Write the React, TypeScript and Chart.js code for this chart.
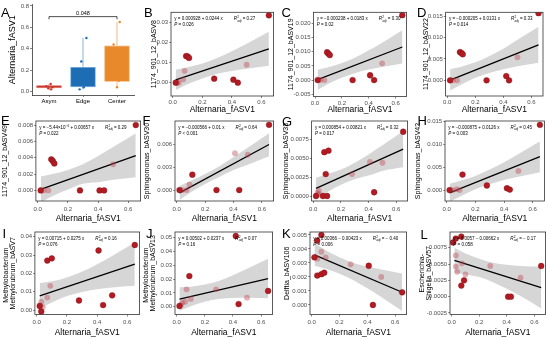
import React, { useEffect, useRef } from "react";
import { Chart, registerables } from "chart.js";
Chart.register(...registerables);

const FONT = "'Liberation Sans', Arial, Helvetica, sans-serif";
Chart.defaults.font.family = FONT;

// ---------------- Panel A data ----------------
const A_GROUPS = ["Asym", "Edge", "Center"];
const A_BOX_LOW = [0.03, 0.04, 0.09];
const A_BOX_HIGH = [0.058, 0.23, 0.43];
const A_WHISK_LOW = [0.02, 0.02, 0.04];
const A_WHISK_HIGH = [0.07, 0.5, 0.65];
const A_ASYM_VALUES = [0.07, 0.05, 0.04, 0.03, 0.02];
const A_ASYM_JITTER = [0.05, -0.08, 0.1, -0.02, 0.06];
const A_EDGE_VALUES = [0.5, 0.28, 0.04, 0.02];
const A_EDGE_JITTER = [0.1, -0.05, 0.02, -0.1];
const A_CENTER_VALUES = [0.65, 0.44, 0.1, 0.04];
const A_CENTER_JITTER = [0.08, -0.1, 0.05, 0.0];
const A_Y_TICKS = [0, 0.2, 0.4, 0.6, 0.8];
const A_P_VALUE = "0.048";
const A_BRACKET_Y = 0.7;

// ---------------- shared x ----------------
const X_TICKS = [0, 0.2, 0.4, 0.6];
const LINE_X = [0.02, 0.65];
const BAND_X = [0.02, 0.1, 0.2, 0.3, 0.4, 0.5, 0.65];

// ---------------- B ----------------
const B_DARK = [[0.02, 0], [0.09, 0.0132], [0.1, 0.013], [0.11, 0.0123], [0.28, 0.002], [0.41, 0.0015], [0.44, 0], [0.65, 0.0334]];
const B_LIGHT = [[0.03, 0], [0.04, 0], [0.07, 0.0016], [0.08, 0.0059], [0.5, 0.0089]];
const B_LINE = [0.00142, 0.01679];
const B_UPPER = [0.0064, 0.0076, 0.0095, 0.0122, 0.0156, 0.0193, 0.0252];
const B_LOWER = [-0.0036, -0.0008, 0.0021, 0.0044, 0.0058, 0.0069, 0.0084];
const B_Y_TICKS = [0, 0.01, 0.02, 0.03];

// ---------------- C ----------------
const C_DARK = [[0.02, 0], [0.09, 0.0098], [0.1, 0.0093], [0.11, 0.0088], [0.28, 0], [0.41, 0.0017], [0.44, 0], [0.65, 0.0229]];
const C_LIGHT = [[0.04, 0], [0.07, 0], [0.5, 0.0059]];
const C_LINE = [0.000128, 0.01166];
const C_UPPER = [0.0036, 0.0045, 0.006, 0.008, 0.0105, 0.0132, 0.0176];
const C_LOWER = [-0.0034, -0.0013, 0.0008, 0.0025, 0.0037, 0.0046, 0.0058];
const C_Y_TICKS = [-0.005, 0, 0.005, 0.01, 0.015, 0.02];

// ---------------- D ----------------
const D_DARK = [[0.02, 0], [0.09, 0.0066], [0.1, 0.0064], [0.11, 0.0061], [0.28, 0], [0.42, 0.001], [0.44, 0], [0.65, 0.0157]];
const D_LIGHT = [[0.04, 0], [0.07, 0], [0.5, 0.0054]];
const D_LINE = [0.000057, 0.00831];
const D_UPPER = [0.0026, 0.0032, 0.0042, 0.0057, 0.0074, 0.0095, 0.0125];
const D_LOWER = [-0.0024, -0.001, 0.0006, 0.0017, 0.0026, 0.0033, 0.0041];
const D_Y_TICKS = [0, 0.005, 0.01, 0.015];

// ---------------- E ----------------
const E_DARK = [[0.02, 0], [0.09, 0.0038], [0.1, 0.0036], [0.11, 0.0033], [0.28, 0], [0.41, 0], [0.44, 0], [0.65, 0.008]];
const E_LIGHT = [[0.04, 0], [0.07, 0], [0.5, 0.0032]];
const E_LINE = [0.000126, 0.00427];
const E_UPPER = [0.0017, 0.002, 0.0025, 0.0032, 0.0042, 0.0053, 0.007];
const E_LOWER = [-0.0015, -0.0007, 0.0001, 0.0008, 0.001, 0.0013, 0.0016];
const E_Y_TICKS = [0, 0.002, 0.004, 0.006, 0.008];

// ---------------- F ----------------
const F_DARK = [[0.02, 0], [0.11, 0.002], [0.28, 0], [0.44, 0], [0.65, 0.0085]];
const F_LIGHT = [[0.04, 0], [0.07, 0], [0.09, 0.0007], [0.41, 0.0048], [0.5, 0.0046]];
const F_LINE = [-0.000366, 0.00593];
const F_UPPER = [0.00053, 0.0012, 0.0021, 0.0031, 0.0043, 0.0055, 0.0074];
const F_LOWER = [-0.0013, -0.0003, 0.0008, 0.0017, 0.0026, 0.0033, 0.0044];
const F_Y_TICKS = [0, 0.003, 0.006];

// ---------------- G ----------------
const G_DARK = [[0.02, 0], [0.08, 0.0058], [0.11, 0.006], [0.09, 0.0029], [0.07, 0], [0.1, 0], [0.44, 0.0005], [0.65, 0.0085]];
const G_LIGHT = [[0.03, 0.0004], [0.04, 0.0007], [0.04, 0.0002], [0.28, 0.0029], [0.41, 0.0045], [0.5, 0.0044]];
const G_LINE = [0.00102, 0.00619];
const G_UPPER = [0.0024, 0.0029, 0.0035, 0.0044, 0.0055, 0.0067, 0.0086];
const G_LOWER = [-0.0004, 0.0005, 0.0015, 0.0022, 0.0027, 0.0033, 0.0038];
const G_Y_TICKS = [0, 0.0025, 0.005, 0.0075];

// ---------------- H ----------------
const H_DARK = [[0.02, 0], [0.11, 0.0034], [0.28, 0.001], [0.42, 0.0004], [0.44, 0.0001], [0.65, 0.0143]];
const H_LIGHT = [[0.04, 0], [0.07, 0.0002], [0.09, 0], [0.5, 0.0042]];
const H_LINE = [-0.000623, 0.00732];
const H_UPPER = [0.0014, 0.0021, 0.0031, 0.0045, 0.0061, 0.0079, 0.0107];
const H_LOWER = [-0.0026, -0.0013, 0.0002, 0.0013, 0.0022, 0.0029, 0.0039];
const H_Y_TICKS = [0, 0.005, 0.01, 0.015];

// ---------------- I ----------------
const I_DARK = [[0.02, 0.0022], [0.03, -0.0008], [0.07, 0.027], [0.1, 0.0282], [0.28, 0.0052], [0.41, 0.0325], [0.44, 0.0027], [0.5, 0.008], [0.65, 0.0355]];
const I_LIGHT = [[0.03, 0.0045], [0.04, 0.0015], [0.07, 0.0068], [0.09, 0.0132]];
const I_LINE = [0.0077, 0.025];
const I_UPPER = [0.0147, 0.0157, 0.0178, 0.0209, 0.025, 0.0295, 0.0368];
const I_LOWER = [0.0007, 0.0041, 0.0076, 0.0099, 0.0114, 0.0123, 0.0132];
const I_Y_TICKS = [0, 0.01, 0.02, 0.03, 0.04];

// ---------------- J ----------------
const J_DARK = [[0.02, 0.0005], [0.09, 0.0222], [0.42, 0.0512], [0.44, 0.0019], [0.65, 0.0114]];
const J_LIGHT = [[0.03, 0.0012], [0.04, 0.003], [0.06, 0.0036], [0.07, 0.0126], [0.1, 0.0056], [0.28, 0.0126], [0.5, 0.0065]];
const J_LINE = [0.0055, 0.0204];
const J_UPPER = [0.014, 0.0144, 0.016, 0.0187, 0.0227, 0.0274, 0.0347];
const J_LOWER = [-0.003, 0.0004, 0.0036, 0.0055, 0.0063, 0.0064, 0.0061];
const J_Y_TICKS = [0, 0.01, 0.02, 0.03, 0.04, 0.05];

// ---------------- K ----------------
const K_DARK = [[0.02, 0.0034], [0.04, 0.0046], [0.07, 0.005], [0.04, 0.0021], [0.07, 0.0022], [0.09, 0.0023], [0.41, 0.0028], [0.44, 0], [0.65, 0.0009]];
const K_LIGHT = [[0.04, 0.0033], [0.07, 0.0038], [0.1, 0.0034], [0.28, 0.0029], [0.5, 0.002]];
const K_LINE = [0.00358, 0.00091];
const K_UPPER = [0.0044, 0.0039, 0.0034, 0.003, 0.00275, 0.00253, 0.00225];
const K_LOWER = [0.0028, 0.00258, 0.00223, 0.00177, 0.00119, 0.00057, -0.00043];
const K_Y_TICKS = [0, 0.001, 0.002, 0.003, 0.004, 0.005];

// ---------------- L ----------------
const L_DARK = [[0.01, 0.0083], [0.03, 0.0089], [0.07, 0.0092], [0.07, 0.0017], [0.09, 0.0025], [0.41, 0], [0.43, 0], [0.65, 0.0047]];
const L_LIGHT = [[0.03, 0.0063], [0.03, 0.0046], [0.04, 0.0038], [0.075, 0.0051], [0.1, 0.0034], [0.28, 0.0047], [0.5, 0.0029]];
const L_LINE = [0.00557, 0.0014];
const L_UPPER = [0.0075, 0.0066, 0.0058, 0.0052, 0.0049, 0.0047, 0.0046];
const L_LOWER = [0.0037, 0.0034, 0.003, 0.0022, 0.0012, 0.0001, -0.0018];
const L_Y_TICKS = [-0.0025, 0, 0.0025, 0.005, 0.0075];

// ---------------- styles ----------------
const DARK = "#B31B22";
const DARK_EDGE = "#7E1015";
const LIGHT = "rgba(190, 70, 80, 0.42)";
const BAND = "rgba(153,153,153,0.4)";
const AXIS = "#333333";
const TICK_TEXT = "#4D4D4D";
const A_FILL = ["#C9392B", "#1C6DB4", "#E8892C"];
const A_EDGE = ["#D9564A", "#5CA3DC", "#F2A55C"];
const X_MIN = -0.012;
const X_MAX = 0.682;
const X_TITLE = "Alternaria_fASV1";
const POINT_R = 2.9;

type PanelCfg = {
  letter: string;
  letterPos: [number, number];
  cell: [number, number, number, number];
  frame: [number, number, number, number];
  ytx: number;
  xTitleY: number;
  xTickPad: number;
  yTitle: string | string[];
  yMin: number;
  yMax: number;
  yTicks: number[];
  yDec: number;
  dark: number[][];
  light: number[][];
  line: number[];
  upper: number[];
  lower: number[];
  eq: string;
  r2: string;
  p: string;
};

const PANELS: PanelCfg[] = [
  { letter: "B", letterPos: [144, 6.5], cell: [140, 0, 278, 116], frame: [171, 12.3, 275, 96], ytx: 153.7, xTitleY: 110, xTickPad: 1, yTitle: "1174_901_12_bASV8", yMin: -0.0066, yMax: 0.0349, yTicks: B_Y_TICKS, yDec: 2, dark: B_DARK, light: B_LIGHT, line: B_LINE, upper: B_UPPER, lower: B_LOWER, eq: "y = 0.000928 + 0.0244 x", r2: "0.27", p: "P = 0.026" },
  { letter: "C", letterPos: [281.5, 6.5], cell: [278, 0, 411, 116], frame: [313.4, 12.3, 408, 96.5], ytx: 290.7, xTitleY: 110, xTickPad: 1, yTitle: "1174_901_12_bASV19", yMin: -0.0058, yMax: 0.0239, yTicks: C_Y_TICKS, yDec: 3, dark: C_DARK, light: C_LIGHT, line: C_LINE, upper: C_UPPER, lower: C_LOWER, eq: "y = \u22120.000238 + 0.0183 x", r2: "0.30", p: "P = 0.02" },
  { letter: "D", letterPos: [417, 6.5], cell: [413, 0, 550, 116], frame: [445.6, 12.3, 543, 96], ytx: 425.7, xTitleY: 110, xTickPad: 1, yTitle: "1174_901_12_bASV22", yMin: -0.00366, yMax: 0.0159, yTicks: D_Y_TICKS, yDec: 3, dark: D_DARK, light: D_LIGHT, line: D_LINE, upper: D_UPPER, lower: D_LOWER, eq: "y = \u22120.000205 + 0.0131 x", r2: "0.33", p: "P = 0.014" },
  { letter: "E", letterPos: [1, 114], cell: [0, 110, 145, 224], frame: [35.9, 121, 141.6, 201], ytx: 5.5, xTitleY: 218.3, xTickPad: 2.5, yTitle: "1174_901_12_bASV49", yMin: -0.0013, yMax: 0.0085, yTicks: E_Y_TICKS, yDec: 3, dark: E_DARK, light: E_LIGHT, line: E_LINE, upper: E_UPPER, lower: E_LOWER, eq: "y = \u22125.44\u00d710^{\u22126} + 0.00657 x", r2: "0.29", p: "P = 0.022" },
  { letter: "F", letterPos: [142.5, 114], cell: [140, 110, 278, 224], frame: [175, 121, 275, 201], ytx: 146.7, xTitleY: 218.3, xTickPad: 2.5, yTitle: "Sphingomonas_bASV30", yMin: -0.00143, yMax: 0.009, yTicks: F_Y_TICKS, yDec: 3, dark: F_DARK, light: F_LIGHT, line: F_LINE, upper: F_UPPER, lower: F_LOWER, eq: "y = \u22120.000566 + 0.01 x", r2: "0.64", p: "P < 0.001" },
  { letter: "G", letterPos: [282, 115], cell: [278, 110, 412, 224], frame: [311.6, 121, 409.2, 201], ytx: 286, xTitleY: 218.3, xTickPad: 2.5, yTitle: "Sphingomonas_bASV33", yMin: -0.00066, yMax: 0.00992, yTicks: G_Y_TICKS, yDec: 4, dark: G_DARK, light: G_LIGHT, line: G_LINE, upper: G_UPPER, lower: G_LOWER, eq: "y = 0.000854 + 0.00821 x", r2: "0.32", p: "P = 0.017" },
  { letter: "H", letterPos: [417.5, 114], cell: [412, 110, 550, 224], frame: [445, 121, 544.5, 201], ytx: 418.3, xTitleY: 218.3, xTickPad: 2.5, yTitle: "Sphingomonas_bASV42", yMin: -0.0024, yMax: 0.01515, yTicks: H_Y_TICKS, yDec: 3, dark: H_DARK, light: H_LIGHT, line: H_LINE, upper: H_UPPER, lower: H_LOWER, eq: "y = \u22120.000875 + 0.0126 x", r2: "0.45", p: "P = 0.003" },
  { letter: "I", letterPos: [2.5, 227.5], cell: [0, 225, 144, 338], frame: [34.9, 232, 140.7, 314.5], ytx: 6, xTitleY: 332.3, xTickPad: 2.5, yTitle: ["Methylobacterium_", "Methylorubrum_bASV7"], yMin: -0.00245, yMax: 0.0426, yTicks: I_Y_TICKS, yDec: 2, dark: I_DARK, light: I_LIGHT, line: I_LINE, upper: I_UPPER, lower: I_LOWER, eq: "y = 0.00715 + 0.0275 x", r2: "0.16", p: "P = 0.076" },
  { letter: "J", letterPos: [146, 227.5], cell: [138, 225, 277, 338], frame: [175, 232, 274, 314.5], ytx: 145.7, xTitleY: 332.3, xTickPad: 2.5, yTitle: ["Methylobacterium_", "Methylorubrum_bASV13"], yMin: -0.00565, yMax: 0.0541, yTicks: J_Y_TICKS, yDec: 2, dark: J_DARK, light: J_LIGHT, line: J_LINE, upper: J_UPPER, lower: J_LOWER, eq: "y = 0.00502 + 0.0237 x", r2: "0.07", p: "P = 0.16" },
  { letter: "K", letterPos: [282, 227.5], cell: [278, 225, 411, 338], frame: [310, 232, 408, 314.5], ytx: 287.3, xTitleY: 332.3, xTickPad: 2.5, yTitle: "Delftia_bASV106", yMin: -0.00068, yMax: 0.00521, yTicks: K_Y_TICKS, yDec: 3, dark: K_DARK, light: K_LIGHT, line: K_LINE, upper: K_UPPER, lower: K_LOWER, eq: "y = 0.00366 \u2212 0.00423 x", r2: "\u2212 0.40", p: "P = 0.006" },
  { letter: "L", letterPos: [420.5, 228], cell: [412, 225, 550, 338], frame: [450, 232, 549.5, 314.5], ytx: 422.3, xTitleY: 332.3, xTickPad: 2.5, yTitle: ["Escherichia-", "Shigella_bASV57"], yMin: -0.00273, yMax: 0.0099, yTicks: L_Y_TICKS, yDec: 4, dark: L_DARK, light: L_LIGHT, line: L_LINE, upper: L_UPPER, lower: L_LOWER, eq: "y = 0.0057 \u2212 0.00662 x", r2: "\u2212 0.17", p: "P = 0.058" },
];

const Y_TITLE_SIZE = 7;
const X_TITLE_SIZE = 8.5;
const TICK_SIZE = 6;
const EQ_SIZE = 4.5;

function drawRich(ctx: CanvasRenderingContext2D, x: number, y: number, text: string, size: number) {
  const parts = text.split(/(\^\{[^}]*\})/);
  for (const part of parts) {
    if (!part) continue;
    if (part.startsWith("^{")) {
      const t = part.slice(2, -1);
      ctx.font = `${size * 0.7}px ${FONT}`;
      ctx.fillText(t, x, y - size * 0.42);
      x += ctx.measureText(t).width;
    } else {
      ctx.font = `${size}px ${FONT}`;
      ctx.fillText(part, x, y);
      x += ctx.measureText(part).width;
    }
  }
  return x;
}

const framePlugin = {
  id: "frame",
  afterDatasetsDraw(chart: any) {
    const { ctx, chartArea: ca } = chart;
    ctx.save();
    ctx.strokeStyle = AXIS;
    ctx.lineWidth = 0.8;
    ctx.strokeRect(ca.left, ca.top, ca.right - ca.left, ca.bottom - ca.top);
    ctx.restore();
  },
};

const eqPlugin = {
  id: "eq",
  afterDraw(chart: any, _args: any, opts: any) {
    const { ctx, chartArea: ca } = chart;
    const p: PanelCfg = opts.panel;
    ctx.save();
    ctx.fillStyle = "#000";
    ctx.textBaseline = "alphabetic";
    ctx.textAlign = "left";
    const x0 = ca.left + 3.3;
    const y1 = ca.top + 8;
    let x = drawRich(ctx, x0, y1, p.eq, EQ_SIZE);
    x += 11;
    ctx.font = `italic ${EQ_SIZE}px ${FONT}`;
    ctx.fillText("R", x, y1);
    x += ctx.measureText("R").width + 0.2;
    ctx.font = `${EQ_SIZE * 0.7}px ${FONT}`;
    ctx.fillText("2", x, y1 - EQ_SIZE * 0.45);
    ctx.font = `italic ${EQ_SIZE * 0.7}px ${FONT}`;
    ctx.fillText("adj", x, y1 + EQ_SIZE * 0.3);
    x += ctx.measureText("adj").width;
    ctx.font = `${EQ_SIZE}px ${FONT}`;
    ctx.fillText(" = " + p.r2, x, y1);
    const y2 = ca.top + 13.7;
    ctx.font = `italic ${EQ_SIZE}px ${FONT}`;
    ctx.fillText("P", x0, y2);
    const px = x0 + ctx.measureText("P").width;
    ctx.font = `${EQ_SIZE}px ${FONT}`;
    ctx.fillText(p.p.slice(1), px, y2);
    ctx.restore();
  },
};

function fmt(v: number, dec: number) {
  return v.toFixed(dec);
}

function scatterConfig(p: PanelCfg): any {
  const [cx0, cy0, cx1, cy1] = p.cell;
  const [l, t, r, b] = p.frame;
  const yw = l - cx0;
  const xh = cy1 - b;
  const yPadTop = p.ytx - cx0 - Y_TITLE_SIZE / 2;
  const xPadBottom = cy1 - p.xTitleY - (X_TITLE_SIZE * 1.2) / 2;
  const pts = (arr: number[][]) => arr.map((d) => ({ x: d[0], y: d[1] }));
  return {
    type: "scatter",
    data: {
      datasets: [
        {
          type: "line",
          data: BAND_X.map((x, i) => ({ x, y: p.upper[i] })),
          borderWidth: 0,
          pointRadius: 0,
          fill: "+1",
          backgroundColor: BAND,
          cubicInterpolationMode: "monotone",
          order: 5,
        },
        {
          type: "line",
          data: BAND_X.map((x, i) => ({ x, y: p.lower[i] })),
          borderWidth: 0,
          pointRadius: 0,
          fill: false,
          cubicInterpolationMode: "monotone",
          order: 5,
        },
        {
          type: "line",
          data: LINE_X.map((x, i) => ({ x, y: p.line[i] })),
          borderColor: "#000",
          borderWidth: 1.3,
          pointRadius: 0,
          fill: false,
          order: 4,
        },
        {
          type: "scatter",
          data: pts(p.light),
          backgroundColor: LIGHT,
          borderColor: "rgba(0,0,0,0)",
          borderWidth: 0,
          pointRadius: POINT_R,
          order: 2,
        },
        {
          type: "scatter",
          data: pts(p.dark),
          backgroundColor: DARK,
          borderColor: DARK_EDGE,
          borderWidth: 0.4,
          pointRadius: POINT_R,
          order: 1,
        },
      ],
    },
    options: {
      animation: false,
      responsive: false,
      events: [],
      layout: { padding: { left: 0, top: t - cy0, right: cx1 - r, bottom: 0 } },
      plugins: {
        legend: { display: false },
        tooltip: { enabled: false },
        eq: { panel: p },
      },
      scales: {
        x: {
          type: "linear",
          min: X_MIN,
          max: X_MAX,
          afterBuildTicks: (s: any) => {
            s.ticks = X_TICKS.map((v) => ({ value: v }));
          },
          afterFit: (s: any) => {
            s.height = xh;
          },
          ticks: {
            callback: (v: any) => fmt(Number(v), 1),
            font: { size: TICK_SIZE },
            color: TICK_TEXT,
            padding: p.xTickPad,
            maxRotation: 0,
            autoSkip: false,
          },
          grid: { display: true, drawOnChartArea: false, drawTicks: true, tickLength: 2, tickColor: AXIS, tickWidth: 0.6 },
          border: { display: false },
          title: {
            display: true,
            text: X_TITLE,
            color: "#000",
            font: { size: X_TITLE_SIZE },
            padding: { top: 0, bottom: xPadBottom },
          },
        },
        y: {
          type: "linear",
          min: p.yMin,
          max: p.yMax,
          afterBuildTicks: (s: any) => {
            s.ticks = p.yTicks.map((v) => ({ value: v }));
          },
          afterFit: (s: any) => {
            s.width = yw;
          },
          ticks: {
            callback: (v: any) => fmt(Number(v), p.yDec),
            font: { size: TICK_SIZE },
            color: TICK_TEXT,
            padding: 1,
            autoSkip: false,
          },
          grid: { display: true, drawOnChartArea: false, drawTicks: true, tickLength: 1.8, tickColor: AXIS, tickWidth: 0.6 },
          border: { display: false },
          title: {
            display: true,
            text: p.yTitle,
            color: "#000",
            font: { size: Y_TITLE_SIZE, lineHeight: 1 },
            padding: { top: yPadTop, bottom: 0 },
          },
        },
      },
    },
    plugins: [framePlugin, eqPlugin],
  };
}

const A_CELL: [number, number, number, number] = [0, 0, 138, 110];
const A_FRAME: [number, number, number, number] = [32, 3, 137, 95];

const boxPlugin = {
  id: "boxExtras",
  beforeDatasetsDraw(chart: any) {
    const { ctx, scales } = chart;
    const xs = scales.x;
    const ys = scales.y;
    ctx.save();
    ctx.lineWidth = 0.8;
    A_GROUPS.forEach((_, i) => {
      const x = xs.getPixelForValue(i);
      ctx.strokeStyle = A_EDGE[i];
      ctx.beginPath();
      ctx.moveTo(x, ys.getPixelForValue(A_WHISK_LOW[i]));
      ctx.lineTo(x, ys.getPixelForValue(A_BOX_LOW[i]));
      ctx.moveTo(x, ys.getPixelForValue(A_BOX_HIGH[i]));
      ctx.lineTo(x, ys.getPixelForValue(A_WHISK_HIGH[i]));
      ctx.stroke();
    });
    ctx.restore();
  },
  afterDatasetsDraw(chart: any) {
    const { ctx, scales } = chart;
    const xs = scales.x;
    const ys = scales.y;
    ctx.save();
    const x1 = xs.getPixelForValue(0);
    const x2 = xs.getPixelForValue(2);
    const yb = ys.getPixelForValue(A_BRACKET_Y);
    const yt = ys.getPixelForValue(A_BRACKET_Y - 0.025);
    ctx.strokeStyle = "#000";
    ctx.lineWidth = 0.7;
    ctx.beginPath();
    ctx.moveTo(x1, yt);
    ctx.lineTo(x1, yb);
    ctx.lineTo(x2, yb);
    ctx.lineTo(x2, yt);
    ctx.stroke();
    ctx.fillStyle = "#000";
    ctx.font = `5.5px ${FONT}`;
    ctx.textAlign = "center";
    ctx.textBaseline = "alphabetic";
    ctx.fillText(A_P_VALUE, (x1 + x2) / 2, yb - 2);
    ctx.restore();
  },
};

function boxConfig(): any {
  const [cx0, cy0, cx1, cy1] = A_CELL;
  const [l, t, r, b] = A_FRAME;
  const pts: { x: number; y: number }[] = [];
  const cols: string[] = [];
  A_ASYM_VALUES.forEach((v, i) => { pts.push({ x: 0 + A_ASYM_JITTER[i], y: v }); cols.push(A_FILL[0]); });
  A_EDGE_VALUES.forEach((v, i) => { pts.push({ x: 1 + A_EDGE_JITTER[i], y: v }); cols.push(A_FILL[1]); });
  A_CENTER_VALUES.forEach((v, i) => { pts.push({ x: 2 + A_CENTER_JITTER[i], y: v }); cols.push(A_FILL[2]); });
  return {
    type: "bar",
    data: {
      datasets: [
        {
          type: "bar",
          data: A_GROUPS.map((_, i) => ({ x: i, y: [A_BOX_LOW[i], A_BOX_HIGH[i]] })),
          backgroundColor: A_FILL,
          borderColor: A_EDGE,
          borderWidth: 0.8,
          borderSkipped: false,
          barPercentage: 0.75,
          categoryPercentage: 1,
          order: 2,
        },
        {
          type: "scatter",
          data: pts,
          backgroundColor: cols,
          borderWidth: 0,
          pointRadius: 1.2,
          order: 1,
        },
      ],
    },
    options: {
      animation: false,
      responsive: false,
      events: [],
      layout: { padding: { left: 0, top: t - cy0, right: cx1 - r, bottom: 0 } },
      plugins: { legend: { display: false }, tooltip: { enabled: false } },
      scales: {
        x: {
          type: "linear",
          min: -0.5,
          max: 2.5,
          offset: false,
          afterBuildTicks: (s: any) => { s.ticks = A_GROUPS.map((_, i) => ({ value: i })); },
          afterFit: (s: any) => { s.height = cy1 - b; },
          ticks: { callback: (v: any) => A_GROUPS[Math.round(Number(v))], font: { size: 6 }, color: "#000", padding: 1, maxRotation: 0, autoSkip: false },
          grid: { display: true, offset: false, drawOnChartArea: false, drawTicks: true, tickLength: 2, tickColor: AXIS, tickWidth: 0.6 },
          border: { display: true, color: AXIS, width: 0.8 },
        },
        y: {
          type: "linear",
          min: -0.033,
          max: 0.8125,
          afterBuildTicks: (s: any) => { s.ticks = A_Y_TICKS.map((v) => ({ value: v })); },
          afterFit: (s: any) => { s.width = l - cx0; },
          ticks: { callback: (v: any) => Number(v).toFixed(1), font: { size: 6 }, color: TICK_TEXT, padding: 1, autoSkip: false },
          grid: { display: true, drawOnChartArea: false, drawTicks: true, tickLength: 2, tickColor: AXIS, tickWidth: 0.6 },
          border: { display: true, color: AXIS, width: 0.8 },
          title: {
            display: true,
            text: "Alternaria_fASV1",
            color: "#000",
            font: { size: 9, lineHeight: 1 },
            padding: { top: 13 - cx0 - 4.5, bottom: 0 },
          },
        },
      },
    },
    plugins: [boxPlugin],
  };
}

function ChartBox({ rect, make }: { rect: [number, number, number, number]; make: () => any }) {
  const ref = useRef<HTMLCanvasElement>(null);
  useEffect(() => {
    const c = new Chart(ref.current as HTMLCanvasElement, make());
    return () => c.destroy();
  }, []);
  const [x0, y0, x1, y1] = rect;
  return (
    <canvas
      ref={ref}
      width={x1 - x0}
      height={y1 - y0}
      style={{ position: "absolute", left: x0, top: y0, width: x1 - x0, height: y1 - y0 }}
    />
  );
}

const letterStyle = (x: number, y: number): React.CSSProperties => ({
  position: "absolute",
  left: x,
  top: y,
  fontFamily: FONT,
  fontSize: 13,
  lineHeight: "13px",
  color: "#000",
});

export default function App() {
  return (
    <div style={{ position: "absolute", left: 0, top: 0, width: 550, height: 338, background: "#fff", overflow: "hidden" }}>
      <ChartBox rect={A_CELL} make={boxConfig} />
      {PANELS.map((p) => (
        <ChartBox key={p.letter} rect={p.cell} make={() => scatterConfig(p)} />
      ))}
      <div style={letterStyle(1, 6)}>A</div>
      {PANELS.map((p) => (
        <div key={"l" + p.letter} style={letterStyle(p.letterPos[0], p.letterPos[1] - 0.5)}>
          {p.letter}
        </div>
      ))}
    </div>
  );
}
